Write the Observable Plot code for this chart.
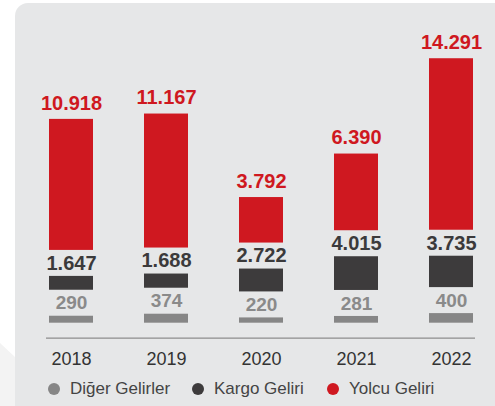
<!DOCTYPE html>
<html>
<head>
<meta charset="utf-8">
<script src="https://cdn.jsdelivr.net/npm/d3@7"></script>
<script src="https://cdn.jsdelivr.net/npm/@observablehq/plot@0.6"></script>
<style>
  html, body { margin: 0; padding: 0; background: #ffffff; }
  #wrap { position: relative; width: 495px; height: 406px; overflow: hidden; font-family: "Liberation Sans", Arial, sans-serif; }
  #panel { position: absolute; left: 15px; top: 3px; width: 520px; height: 440px; background: #e6e7e8; border-radius: 13px; }
  #corner { position: absolute; left: 0; top: 0; width: 15px; height: 406px; background: #f3f3f3; clip-path: polygon(0 343px, 15px 357px, 15px 406px, 0 406px); }
  #chart { position: absolute; left: 0; top: 0; }
  #legend { position: absolute; left: 0; top: 372px; width: 495px; height: 34px; }
  .item { position: absolute; top: 0; height: 34px; display: flex; align-items: center; font-size: 17px; color: #444; }
  .dot { width: 12px; height: 12px; border-radius: 50%; margin-right: 10px; }
</style>
</head>
<body>
<div id="wrap">
  <div id="panel"></div>
  <div id="corner"></div>
  <div id="chart"></div>
  <div id="legend"></div>
</div>
<script>
const years = ["2018", "2019", "2020", "2021", "2022"];
const digerGelirler = [290, 374, 220, 281, 400];
const kargoGeliri = [1647, 1688, 2722, 4015, 3735];
const yolcuGeliri = [10918, 11167, 3792, 6390, 14291];
const seriesNames = ["Diğer Gelirler", "Kargo Geliri", "Yolcu Geliri"];
const seriesColors = ["#868686", "#3d3b3c", "#cf1820"];
const labelColors = ["#8a8a8a", "#3b3a3b", "#cf1820"];
// infographic emphasis per series (the source is not drawn to one scale)
const seriesWeights = [2, 0.7, 1];

const H = 372, mb = 49.3, mt = 0;
const k = 0.012;                 // px per unit
const yMax = (H - mb - mt) / k;
const gap = 26 / k;              // gap between stacked segments, in y units

const fmt = d3.formatLocale({decimal: ",", thousands: ".", grouping: [3], currency: ["", ""]}).format(",");

const seriesValues = [digerGelirler, kargoGeliri, yolcuGeliri];
const rows = [];
years.forEach((yr, i) => {
  let base = 0;
  seriesValues.forEach((arr, s) => {
    const y1 = base, y2 = base + arr[i] * seriesWeights[s];
    rows.push({year: yr, series: seriesNames[s], s, value: arr[i], y1, y2});
    base = y2 + gap;
  });
});

const font = "'Liberation Sans', Arial, sans-serif";
const chart = Plot.plot({
  width: 495,
  height: H,
  marginLeft: 49,
  marginRight: 22,
  marginTop: mt,
  marginBottom: mb,
  x: {domain: years, paddingInner: 0.537, paddingOuter: 0, axis: null},
  y: {domain: [0, yMax], axis: null},
  color: {domain: seriesNames, range: seriesColors},
  style: {fontFamily: font, background: "transparent", color: "#333"},
  marks: [
    Plot.ruleY([0], {dy: 15, stroke: "#8d8d8d", strokeWidth: 1.2, insetLeft: -3, insetRight: -2}),
    Plot.barY(rows, {x: "year", y1: "y1", y2: "y2", fill: "series"}),
    Plot.text(rows.filter(d => d.s === 2), {x: "year", y: "y2", text: d => fmt(d.value), fill: labelColors[2], fontSize: 20, fontWeight: "bold", dy: -16, lineAnchor: "middle"}),
    Plot.text(rows.filter(d => d.s === 1), {x: "year", y: "y2", text: d => fmt(d.value), fill: labelColors[1], fontSize: 20, fontWeight: "bold", dy: -13, lineAnchor: "middle"}),
    Plot.text(rows.filter(d => d.s === 0), {x: "year", y: "y2", text: d => fmt(d.value), fill: labelColors[0], fontSize: 19, fontWeight: "bold", dy: -13, lineAnchor: "middle"}),
    Plot.axisX({domain: years, tickSize: 0, tickPadding: 29, fontSize: 18, fill: "#333", label: null})
  ]
});
document.getElementById("chart").appendChild(chart);

const legendLefts = [48, 192, 327];
const legend = document.getElementById("legend");
seriesNames.forEach((name, i) => {
  const item = document.createElement("div");
  item.className = "item";
  item.style.left = legendLefts[i] + "px";
  const dot = document.createElement("span");
  dot.className = "dot";
  dot.style.background = seriesColors[i];
  const t = document.createElement("span");
  t.textContent = name;
  item.appendChild(dot);
  item.appendChild(t);
  legend.appendChild(item);
});
</script>
</body>
</html>
